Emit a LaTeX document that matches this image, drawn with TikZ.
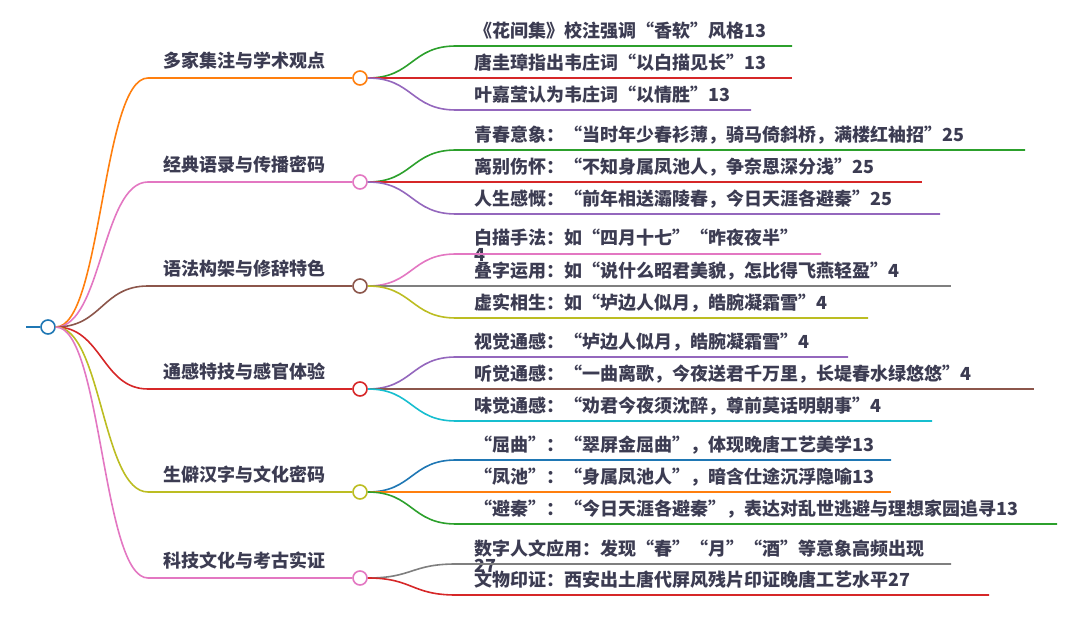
\documentclass[tikz,border=0pt]{standalone}
\usepackage{fontspec}
\setmainfont{Noto Sans CJK SC}
\usetikzlibrary{calc,positioning}

\definecolor{ink}{RGB}{60,60,82}
\definecolor{cblue}{HTML}{1F77B4}
\definecolor{corange}{HTML}{FF7F0E}
\definecolor{cgreen}{HTML}{2CA02C}
\definecolor{cred}{HTML}{D62728}
\definecolor{cpurple}{HTML}{9467BD}
\definecolor{cbrown}{HTML}{8C564B}
\definecolor{cpink}{HTML}{E377C2}
\definecolor{cgray}{HTML}{7F7F7F}
\definecolor{colive}{HTML}{BCBD22}
\definecolor{ccyan}{HTML}{17BECF}

\begin{document}
\begin{tikzpicture}[
    x=1pt, y=-1pt,
    dot/.style={circle, draw, fill=white, line width=1.6pt, minimum size=14pt, inner sep=0pt},
    link/.style={line width=1.6pt},
    topic/.style={anchor=south west, inner xsep=15pt, inner ysep=0pt, text depth=10pt, text=ink, font=\fontsize{18}{20}\selectfont\bfseries},
    leaf/.style={anchor=south west, inner xsep=18pt, inner ysep=0pt, text depth=8pt, text=ink, font=\fontsize{18}{20}\selectfont\bfseries},
    leaftwo/.style={leaf, align=left, text depth=0pt, font=\fontsize{18}{17}\selectfont\bfseries}
]
    \useasboundingbox (0,0) rectangle (1080,617);

    % Root
    \coordinate (stem) at (26,327);
    \node[dot, draw=cblue] (root) at (48,327) {};
    \draw[link, draw=cblue] (stem) -- (root.west);

    % Topics
    \node[topic] (t1) at (148,78) {多家集注与学术观点};
    \node[topic] (t2) at (148,182) {经典语录与传播密码};
    \node[topic] (t3) at (148,286) {语法构架与修辞特色};
    \node[topic] (t4) at (148,389) {通感特技与感官体验};
    \node[topic] (t5) at (148,492) {生僻汉字与文化密码};
    \node[topic] (t6) at (148,578) {科技文化与考古实证};

    \node[dot, draw=corange] (b1) at (360,78) {};
    \node[dot, draw=cpink] (b2) at (360,182) {};
    \node[dot, draw=cbrown] (b3) at (360,286) {};
    \node[dot, draw=cred] (b4) at (360,389) {};
    \node[dot, draw=colive] (b5) at (360,492) {};
    \node[dot, draw=cpink] (b6) at (360,578) {};

    \draw[link, draw=corange] (root.east) .. controls +(46,0) and +(-46,0) .. (t1.south west) -- (b1.west);
    \draw[link, draw=cpink] (root.east) .. controls +(46,0) and +(-46,0) .. (t2.south west) -- (b2.west);
    \draw[link, draw=cbrown] (root.east) .. controls +(46,0) and +(-46,0) .. (t3.south west) -- (b3.west);
    \draw[link, draw=cred] (root.east) .. controls +(46,0) and +(-46,0) .. (t4.south west) -- (b4.west);
    \draw[link, draw=colive] (root.east) .. controls +(46,0) and +(-46,0) .. (t5.south west) -- (b5.west);
    \draw[link, draw=cpink] (root.east) .. controls +(46,0) and +(-46,0) .. (t6.south west) -- (b6.west);

    % Leaves
    \node[leaf] (l11) at (456,46) {《花间集》校注强调“香软”风格13};
    \node[leaf] (l12) at (456,78) {唐圭璋指出韦庄词“以白描见长”13};
    \node[leaf] (l13) at (456,110) {叶嘉莹认为韦庄词“以情胜”13};

    \node[leaf] (l21) at (456,150) {青春意象：“当时年少春衫薄，骑马倚斜桥，满楼红袖招”25};
    \node[leaf] (l22) at (456,182) {离别伤怀：“不知身属凤池人，争奈恩深分浅”25};
    \node[leaf] (l23) at (456,214) {人生感慨：“前年相送灞陵春，今日天涯各避秦”25};

    \node[leaftwo] (l31) at (456,262) {白描手法：如“四月十七”“昨夜夜半”\\4};
    \node[leaf] (l32) at (456,286) {叠字运用：如“说什么昭君美貌，怎比得飞燕轻盈”4};
    \node[leaf] (l33) at (456,318) {虚实相生：如“垆边人似月，皓腕凝霜雪”4};

    \node[leaf] (l41) at (456,357) {视觉通感：“垆边人似月，皓腕凝霜雪”4};
    \node[leaf] (l42) at (456,389) {听觉通感：“一曲离歌，今夜送君千万里，长堤春水绿悠悠”4};
    \node[leaf] (l43) at (456,421) {味觉通感：“劝君今夜须沈醉，尊前莫话明朝事”4};

    \node[leaf] (l51) at (456,460) {“屈曲”：“翠屏金屈曲”，体现晚唐工艺美学13};
    \node[leaf] (l52) at (456,492) {“凤池”：“身属凤池人”，暗含仕途沉浮隐喻13};
    \node[leaf] (l53) at (456,524) {“避秦”：“今日天涯各避秦”，表达对乱世逃避与理想家园追寻13};

    \node[leaftwo] (l61) at (456,573) {数字人文应用：发现“春”“月”“酒”等意象高频出现\\27};
    \node[leaf] (l62) at (456,595) {文物印证：西安出土唐代屏风残片印证晚唐工艺水平27};

    % underline ends
    \coordinate (e11) at (792,46);
    \coordinate (e12) at (792,78);
    \coordinate (e13) at (751,110);
    \coordinate (e21) at (1025,150);
    \coordinate (e22) at (922,182);
    \coordinate (e23) at (940,214);
    \coordinate (e31) at (821,254);
    \coordinate (e32) at (951,286);
    \coordinate (e33) at (868,318);
    \coordinate (e41) at (848,357);
    \coordinate (e42) at (1034,389);
    \coordinate (e43) at (932,421);
    \coordinate (e51) at (891,460);
    \coordinate (e52) at (891,492);
    \coordinate (e53) at (1057,524);
    \coordinate (e61) at (951,564);
    \coordinate (e62) at (989,595);

    \draw[link, draw=cgreen] (b1.east) .. controls +(45,0) and +(-45,0) .. (l11.south west) -- (e11);
    \draw[link, draw=cred] (b1.east) .. controls +(45,0) and +(-45,0) .. (l12.south west) -- (e12);
    \draw[link, draw=cpurple] (b1.east) .. controls +(45,0) and +(-45,0) .. (l13.south west) -- (e13);

    \draw[link, draw=cgreen] (b2.east) .. controls +(45,0) and +(-45,0) .. (l21.south west) -- (e21);
    \draw[link, draw=cred] (b2.east) .. controls +(45,0) and +(-45,0) .. (l22.south west) -- (e22);
    \draw[link, draw=cpurple] (b2.east) .. controls +(45,0) and +(-45,0) .. (l23.south west) -- (e23);

    \draw[link, draw=cpink] (b3.east) .. controls +(45,0) and +(-45,0) .. ($(l31.south west)+(0,-8)$) -- (e31);
    \draw[link, draw=cgray] (b3.east) .. controls +(45,0) and +(-45,0) .. (l32.south west) -- (e32);
    \draw[link, draw=colive] (b3.east) .. controls +(45,0) and +(-45,0) .. (l33.south west) -- (e33);

    \draw[link, draw=cpurple] (b4.east) .. controls +(45,0) and +(-45,0) .. (l41.south west) -- (e41);
    \draw[link, draw=cbrown] (b4.east) .. controls +(45,0) and +(-45,0) .. (l42.south west) -- (e42);
    \draw[link, draw=ccyan] (b4.east) .. controls +(45,0) and +(-45,0) .. (l43.south west) -- (e43);

    \draw[link, draw=cblue] (b5.east) .. controls +(45,0) and +(-45,0) .. (l51.south west) -- (e51);
    \draw[link, draw=corange] (b5.east) .. controls +(45,0) and +(-45,0) .. (l52.south west) -- (e52);
    \draw[link, draw=cgreen] (b5.east) .. controls +(45,0) and +(-45,0) .. (l53.south west) -- (e53);

    \draw[link, draw=cgray] (b6.east) .. controls +(45,0) and +(-45,0) .. ($(l61.south west)+(0,-9)$) -- (e61);
    \draw[link, draw=cred] (b6.east) .. controls +(45,0) and +(-45,0) .. (l62.south west) -- (e62);
\end{tikzpicture}
\end{document}
